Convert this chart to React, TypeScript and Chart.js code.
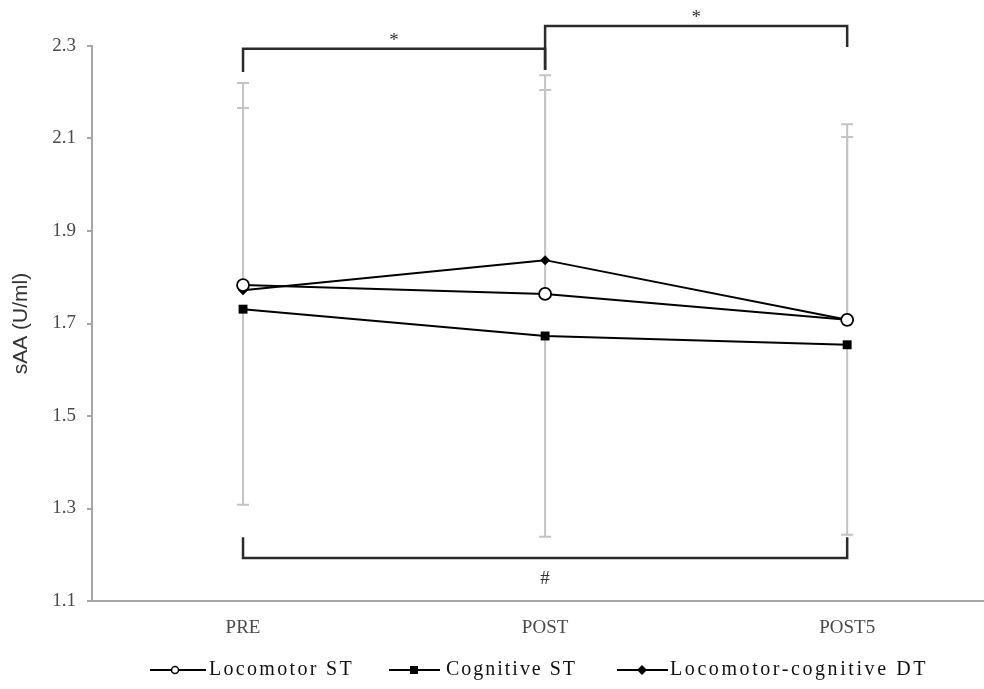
import React, { useEffect, useRef } from "react";
import { Chart, registerables } from "chart.js";

Chart.register(...registerables);

// ---------- data ----------
const categories = ["PRE", "POST", "POST5"];
const seriesNames = ["Locomotor ST", "Cognitive ST", "Locomotor-cognitive DT"];
const locomotorST = [1.783, 1.764, 1.708];
const cognitiveST = [1.731, 1.673, 1.654];
const locomotorCognitiveDT = [1.772, 1.837, 1.708];
// error bar lengths (SD)
const locomotorSD = [0.383, 0.441, 0.395];
const cognitiveSD = [0.423, 0.434, 0.411];
const dtSD = [0.448, 0.4, 0.423];
const yTickValues = [1.1, 1.3, 1.5, 1.7, 1.9, 2.1, 2.3];
// significance brackets: category indices, leg end values, bar value, label
const bracketFrom = [0, 1, 0];
const bracketTo = [1, 2, 2];
const bracketLeftEnd = [2.244, 2.248, 1.238];
const bracketRightEnd = [2.248, 2.298, 1.238];
const bracketLevel = [2.294, 2.343, 1.193];
const bracketLabels = ["*", "*", "#"];
const bracketLabelValue = [2.31, 2.36, 1.147];

const SERIF = "'Liberation Serif', 'Times New Roman', serif";
const SANS = "'Liberation Sans', Arial, sans-serif";

const errorBarPlugin = {
  id: "errorBars",
  beforeDatasetsDraw(chart: any) {
    const ctx = chart.ctx;
    const x = chart.scales.x;
    const y = chart.scales.y;
    const sets = [
      { vals: locomotorST, sd: locomotorSD, dir: 1 },
      { vals: cognitiveST, sd: cognitiveSD, dir: -1 },
      { vals: locomotorCognitiveDT, sd: dtSD, dir: 1 },
    ];
    ctx.save();
    ctx.strokeStyle = "#c4c4c4";
    ctx.lineWidth = 2;
    sets.forEach((s) => {
      s.vals.forEach((v, i) => {
        const px = x.getPixelForValue(i);
        const y0 = y.getPixelForValue(v);
        const y1 = y.getPixelForValue(v + s.dir * s.sd[i]);
        ctx.beginPath();
        ctx.moveTo(px, y0);
        ctx.lineTo(px, y1);
        ctx.moveTo(px - 6, y1);
        ctx.lineTo(px + 6, y1);
        ctx.stroke();
      });
    });
    ctx.restore();
  },
};

const annotationPlugin = {
  id: "brackets",
  afterDraw(chart: any) {
    const ctx = chart.ctx;
    const x = chart.scales.x;
    const y = chart.scales.y;
    ctx.save();
    ctx.strokeStyle = "#2b2b2b";
    ctx.lineWidth = 2.5;
    ctx.lineJoin = "miter";
    bracketFrom.forEach((f, i) => {
      const x1 = x.getPixelForValue(f);
      const x2 = x.getPixelForValue(bracketTo[i]);
      const yl = y.getPixelForValue(bracketLevel[i]);
      ctx.beginPath();
      ctx.moveTo(x1, y.getPixelForValue(bracketLeftEnd[i]));
      ctx.lineTo(x1, yl);
      ctx.lineTo(x2, yl);
      ctx.lineTo(x2, y.getPixelForValue(bracketRightEnd[i]));
      ctx.stroke();
      ctx.fillStyle = "#333";
      ctx.font = `19px ${SERIF}`;
      ctx.textAlign = "center";
      ctx.textBaseline = "middle";
      ctx.fillText(bracketLabels[i], (x1 + x2) / 2, y.getPixelForValue(bracketLabelValue[i]));
    });
    ctx.restore();

    // legend
    const items = [
      { lx1: 150, lx2: 206, mx: 175, tx: 209, tw: 145, style: "circle" },
      { lx1: 389, lx2: 440, mx: 414, tx: 446, tw: 131, style: "rect" },
      { lx1: 617, lx2: 668, mx: 642, tx: 670, tw: 258, style: "rectRot" },
    ];
    const ly = 670;
    ctx.save();
    items.forEach((it, i) => {
      ctx.strokeStyle = "#000";
      ctx.lineWidth = 2;
      ctx.beginPath();
      ctx.moveTo(it.lx1, ly);
      ctx.lineTo(it.lx2, ly);
      ctx.stroke();
      if (it.style === "circle") {
        ctx.beginPath();
        ctx.arc(it.mx, ly, 3.5, 0, Math.PI * 2);
        ctx.fillStyle = "#fff";
        ctx.fill();
        ctx.lineWidth = 1.5;
        ctx.stroke();
      } else if (it.style === "rect") {
        ctx.fillStyle = "#000";
        ctx.fillRect(it.mx - 4, ly - 4, 8, 8);
      } else {
        ctx.fillStyle = "#000";
        ctx.beginPath();
        ctx.moveTo(it.mx, ly - 5);
        ctx.lineTo(it.mx + 5, ly);
        ctx.lineTo(it.mx, ly + 5);
        ctx.lineTo(it.mx - 5, ly);
        ctx.closePath();
        ctx.fill();
      }
      ctx.font = `20px ${SERIF}`;
      ctx.fillStyle = "#111";
      ctx.textAlign = "left";
      ctx.textBaseline = "middle";
      const name = seriesNames[i];
      (ctx as any).letterSpacing = "0px";
      const w = ctx.measureText(name).width;
      const sp = Math.max(0, (it.tw - w) / name.length);
      (ctx as any).letterSpacing = `${sp}px`;
      ctx.fillText(name, it.tx, ly);
      (ctx as any).letterSpacing = "0px";
    });
    ctx.restore();
  },
};

export default function App() {
  const canvasRef = useRef<HTMLCanvasElement | null>(null);

  useEffect(() => {
    if (!canvasRef.current) return;
    const mk = (label: string, data: number[], style: string, r: number, bg: string, bw: number) => ({
      label,
      data,
      borderColor: "#000",
      borderWidth: 2,
      pointStyle: style,
      pointRadius: r,
      pointBackgroundColor: bg,
      pointBorderColor: "#000",
      pointBorderWidth: bw,
      tension: 0,
      clip: false as any,
    });
    const chart = new Chart(canvasRef.current, {
      type: "line",
      data: {
        labels: categories,
        datasets: [
          mk(seriesNames[0], locomotorST, "circle", 6, "#fff", 1.8),
          mk(seriesNames[1], cognitiveST, "rect", 6.3, "#000", 0),
          mk(seriesNames[2], locomotorCognitiveDT, "rectRot", 5, "#000", 0),
        ],
      },
      options: {
        animation: false,
        responsive: false,
        maintainAspectRatio: false,
        layout: { padding: { top: 46, right: 0, left: 0, bottom: 0 } },
        plugins: {
          legend: { display: false },
          tooltip: { enabled: false },
        },
        scales: {
          x: {
            type: "category",
            offset: true,
            grid: { display: false, drawTicks: false },
            border: { display: true, color: "#a6a6a6", width: 2 },
            ticks: {
              font: { family: SERIF, size: 19 },
              color: "#4a4a4a",
              padding: 16,
            },
            afterFit(scale: any) {
              scale.height = 88;
            },
          },
          y: {
            type: "linear",
            min: 1.1,
            max: 2.3,
            grid: {
              display: true,
              drawOnChartArea: false,
              drawTicks: true,
              tickLength: 5,
              color: "#a6a6a6",
              lineWidth: 2,
            },
            border: { display: true, color: "#a6a6a6", width: 2 },
            ticks: {
              font: { family: SERIF, size: 19 },
              color: "#4a4a4a",
              padding: 11,
              callback: (v: any) => Number(v).toFixed(1),
            },
            afterBuildTicks(scale: any) {
              scale.ticks = yTickValues.map((v) => ({ value: v }));
            },
            title: {
              display: true,
              text: "sAA (U/ml)",
              font: { family: SANS, size: 21 },
              color: "#333",
              padding: { top: 9, bottom: 0 },
            },
            afterFit(scale: any) {
              scale.width = 92;
            },
          },
        },
      },
      plugins: [errorBarPlugin, annotationPlugin],
    });
    return () => chart.destroy();
  }, []);

  return (
    <div style={{ position: "fixed", left: 0, top: 0, width: 1006, height: 689, background: "#fff" }}>
      <canvas ref={canvasRef} width={1006} height={689} style={{ display: "block" }} />
    </div>
  );
}
